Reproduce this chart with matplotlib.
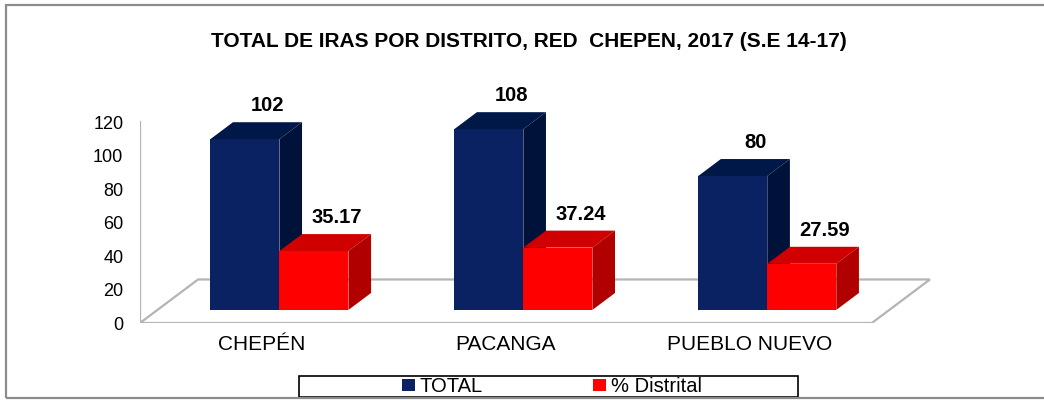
import numpy as np
import matplotlib.pyplot as plt
from matplotlib.patches import Polygon, Rectangle

plt.rcParams["font.family"] = ["Liberation Sans", "DejaVu Sans"]

distritos = ["CHEPÉN", "PACANGA", "PUEBLO NUEVO"]
total = [102, 108, 80]
pct_distrital = [35.17, 37.24, 27.59]
series = ["TOTAL", "% Distrital"]
yticks = [0, 20, 40, 60, 80, 100, 120]
title = "TOTAL DE IRAS POR DISTRITO, RED  CHEPEN, 2017 (S.E 14-17)"

# fake 3d look (like the excel chart): depth offset in data units
depth_x, depth_y = 0.238, 26
d0, d1 = 0.30, 0.69
w = 0.283
colors = {
    "TOTAL": ("#0a2262", "#001848", "#00123a"),
    "% Distrital": ("#ff0000", "#d00000", "#b00000"),
}

fig = plt.figure(figsize=(10.44, 4.0), dpi=100)
ax = fig.add_axes([140 / 1044, 77 / 400, 805 / 1044, 226 / 400])
ax.set_xlim(-0.5, 2.8)
ax.set_ylim(0, 135)
for s in ax.spines.values():
    s.set_visible(False)

x = np.arange(len(distritos))
n = len(x)

# floor + left edge
floor = Polygon([(-0.5, 0), (n - 0.5, 0), (n - 0.5 + depth_x, depth_y), (-0.5 + depth_x, depth_y)],
                closed=True, facecolor="white", edgecolor="#b4b4b4", lw=1.6, zorder=1)
ax.add_patch(floor)
ax.plot([-0.5, -0.5], [0, yticks[-1]], color="#b4b4b4", lw=1.6, zorder=1)

ddx = depth_x * (d1 - d0)
ddy = depth_y * (d1 - d0)
base = depth_y * d0
handles = []
for k, (name, vals) in enumerate([(series[0], total), (series[1], pct_distrital)]):
    front, top, side = colors[name]
    left = x + depth_x * d0 - w + k * w
    bars = ax.bar(left, vals, width=w, bottom=base, align="edge", color=front,
                  edgecolor="none", zorder=2 + k, label=name)
    handles.append(bars)
    for xl, v in zip(left, vals):
        xr = xl + w
        yt = base + v
        ax.add_patch(Polygon([(xl, yt), (xr, yt), (xr + ddx, yt + ddy), (xl + ddx, yt + ddy)],
                             closed=True, facecolor=top, edgecolor="none", zorder=2 + k))
        ax.add_patch(Polygon([(xr, base), (xr, yt), (xr + ddx, yt + ddy), (xr + ddx, base + ddy)],
                             closed=True, facecolor=side, edgecolor="none", zorder=2 + k))
        lab = f"{v:.2f}" if isinstance(v, float) else f"{v}"
        ax.text(xl + w / 2 + ddx, yt + ddy + 6.5, lab, ha="center", va="baseline",
                fontsize=14.5, fontweight="bold", zorder=5)

ax.set_yticks(yticks)
ax.set_xticks(x)
ax.set_xticklabels(distritos, fontsize=15)
ax.tick_params(axis="y", length=0, pad=12, labelsize=13)
ax.tick_params(axis="x", length=0, pad=9)

fig.text(529 / 1044, (400 - 47) / 400, title, ha="center", va="baseline",
         fontsize=15, fontweight="bold")

# legend box and outer border
fig.patches.append(Rectangle((299 / 1044, 3 / 400), 499 / 1044, 21 / 400, transform=fig.transFigure,
                             facecolor="white", edgecolor="black", lw=1.2, zorder=0))
fig.patches.append(Rectangle((6 / 1044, 2 / 400), 1.1, 393 / 400, transform=fig.transFigure,
                             facecolor="none", edgecolor="#8c8c8c", lw=1.6))
fig.legend(handles, series, loc="center", bbox_to_anchor=(552 / 1044, 13.5 / 400), ncol=2,
           frameon=False, fontsize=14.5, handlelength=0.6, handleheight=0.6,
           handletextpad=0.25, columnspacing=5.5, borderpad=0)

fig.savefig("out.png", dpi=100)
